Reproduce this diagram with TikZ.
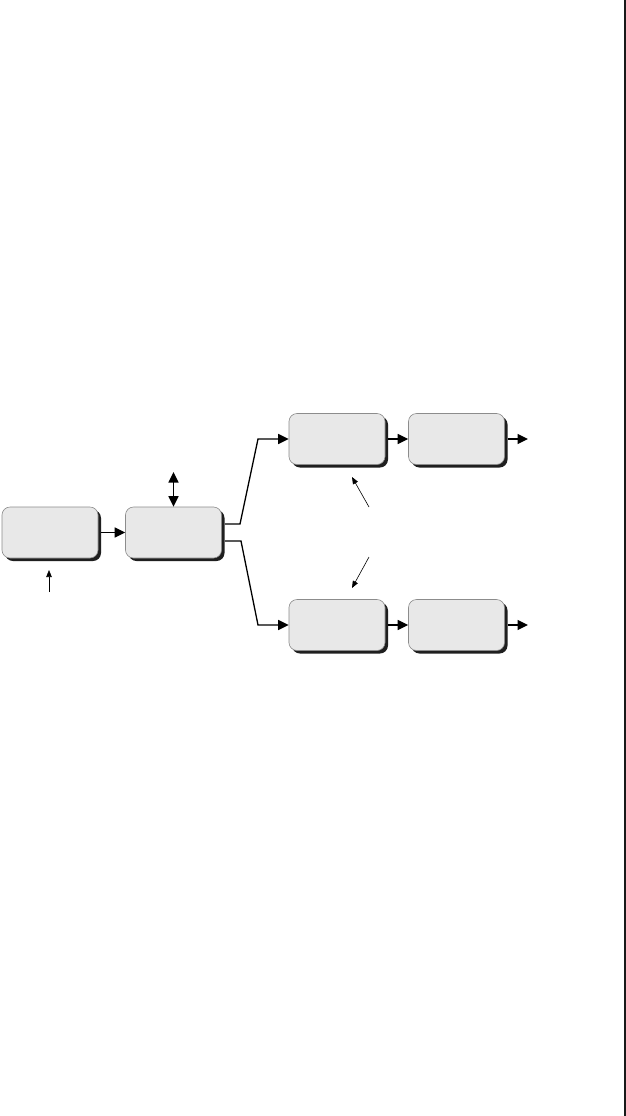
\documentclass[tikz,border=0pt]{standalone}
\usetikzlibrary{arrows.meta,shadows,calc}
\begin{document}
\begin{tikzpicture}[x=1pt,y=-1pt,
  box/.style={rectangle,rounded corners=8pt,minimum width=96pt,minimum height=51pt,
    inner sep=0pt,fill=black!9,draw=black!45,line width=0.6pt,
    drop shadow={shadow xshift=3pt,shadow yshift=-3pt,fill=black!88,opacity=1}},
  tip/.tip={Triangle[length=10.5pt,width=10pt]},
  conn/.style={line width=1.3pt,-tip},
  thin/.style={line width=0.6pt,-{Triangle[length=7pt,width=5.5pt]}},
  dbl/.style={line width=1.5pt,tip-tip}
]
\useasboundingbox (0,0) rectangle (626,1116);
\fill[white] (0,0) rectangle (626,1116);
\draw[line width=1.4pt,black!90] (625,0) -- (625,1116);

\node[box] (b1) at (50,532.5) {};
\node[box] (b2) at (173.5,532.5) {};
\node[box] (b3) at (337,439) {};
\node[box] (b4) at (456.5,439) {};
\node[box] (b5) at (337,625) {};
\node[box] (b6) at (456.5,625) {};

\coordinate (up1) at (240,524);
\coordinate (up2) at (258,439);
\coordinate (dn1) at (241,541);
\coordinate (dn2) at (258,625);
\coordinate (top) at (173.5,472);
\coordinate (inS) at (49,592);
\coordinate (inE) at (49,570);
\coordinate (o1) at (528,439);
\coordinate (o2) at (528,625);
\coordinate (m1s) at (369,507);
\coordinate (m1e) at (352,477);
\coordinate (m2s) at (369,557);
\coordinate (m2e) at (352,588);

\draw[conn] ([xshift=3pt]b1.east) -- (b2.west);
\draw[conn] ([xshift=3pt,yshift=8.5pt]b2.east) -- (up1) -- (up2) -- (b3.west);
\draw[conn] ([xshift=3pt,yshift=-8.5pt]b2.east) -- (dn1) -- (dn2) -- (b5.west);
\draw[conn] ([xshift=3pt]b3.east) -- (b4.west);
\draw[conn] ([xshift=3pt]b5.east) -- (b6.west);
\draw[conn] ([xshift=3pt]b4.east) -- (o1);
\draw[conn] ([xshift=3pt]b6.east) -- (o2);
\draw[dbl] (top) -- (b2.north);
\draw[thin] (inS) -- (inE);
\draw[thin] (m1s) -- (m1e);
\draw[thin] (m2s) -- (m2e);
\end{tikzpicture}
\end{document}
